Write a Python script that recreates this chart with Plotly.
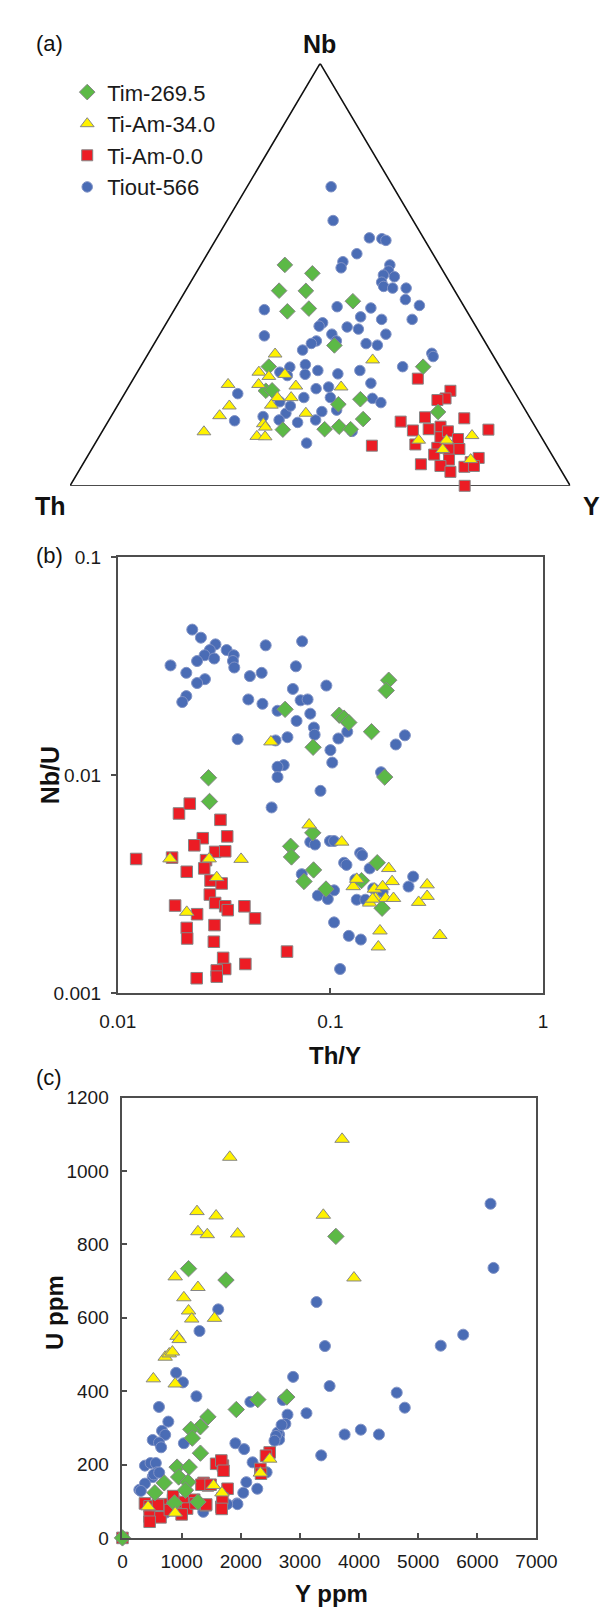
import plotly.graph_objects as go

# ======================= DATA =======================
SERIES = ["Tim-269.5", "Ti-Am-34.0", "Ti-Am-0.0", "Tiout-566"]

# ---- (a) ternary Th - Nb - Y (percent) ----
a_th_green = [30.9, 26.4, 35.1, 29.8, 21.6, 35.9, 31.3, 30.5, 46.1, 15.3, 49.6, 48.3, 36.7, 31.7, 33.5, 17.7, 50.8, 42.4, 39.2, 37.2]
a_nb_green = [52.3, 50.3, 46.2, 46.2, 43.7, 41.3, 42.0, 33.2, 28.2, 28.2, 22.5, 22.6, 19.3, 20.5, 15.8, 17.5, 13.3, 13.4, 14.0, 13.4]
a_y_green = [16.8, 23.3, 18.7, 24.1, 34.7, 22.8, 26.8, 36.2, 25.6, 56.5, 27.9, 29.1, 44.0, 47.8, 50.7, 64.9, 35.9, 44.2, 46.8, 49.4]

a_th_yellow = [43.4, 48.8, 47.3, 43.9, 56.4, 50.3, 43.0, 34.1, 24.6, 48.1, 45.4, 50.2, 58.7, 61.8, 44.3, 54.0, 54.0, 66.9, 56.8, 55.2, 24.9, 19.3, 13.7, 21.2, 16.8]
a_nb_yellow = [31.2, 26.9, 25.9, 26.4, 24.0, 24.0, 23.6, 23.4, 29.8, 20.9, 20.9, 19.1, 18.9, 16.6, 17.2, 14.7, 13.9, 12.8, 11.7, 11.6, 10.8, 10.8, 11.9, 8.6, 6.2]
a_y_yellow = [25.4, 24.3, 26.8, 29.8, 19.6, 25.7, 33.3, 42.5, 45.6, 31.0, 33.8, 30.7, 22.4, 21.6, 38.6, 31.3, 32.1, 20.4, 31.5, 33.2, 64.3, 69.9, 74.5, 70.2, 77.0]

a_th_red = [17.8, 12.7, 14.6, 16.4, 26.3, 20.9, 13.2, 24.9, 21.6, 18.9, 9.7, 26.1, 20.2, 18.0, 16.9, 34.9, 22.1, 20.0, 17.8, 23.5, 21.1, 17.1, 15.0, 27.3, 23.6, 22.3, 18.9, 16.9, 21.1]
a_nb_red = [25.4, 22.5, 20.7, 20.3, 15.2, 16.2, 16.0, 13.1, 13.4, 14.0, 13.3, 9.8, 11.5, 12.9, 11.1, 9.5, 9.0, 8.6, 8.7, 7.4, 6.2, 5.6, 6.6, 5.1, 4.7, 3.3, 4.5, 4.7, 0.0]
a_y_red = [56.9, 64.8, 64.8, 63.3, 58.5, 62.8, 70.9, 62.0, 65.0, 67.0, 77.0, 64.2, 68.3, 69.1, 72.1, 55.6, 69.0, 71.5, 73.5, 69.1, 72.6, 77.3, 78.4, 67.6, 71.7, 74.4, 76.6, 78.4, 78.9]

a_th_blue = [12.4, 16.0, 10.8, 8.4, 7.8, 15.2, 18.9, 20.0, 9.9, 10.9,
             12.4, 13.6, 10.4, 13.7, 12.1, 9.4, 10.9, 8.8, 25.4, 18.8,
             21.9, 18.0, 11.9, 40.3, 30.2, 31.3, 25.8, 23.8, 18.9, 29.7,
             43.4, 33.6, 34.9, 29.6, 24.0, 21.9, 37.4, 12.0, 12.1, 19.4,
             36.8, 38.6, 39.8, 42.0, 44.6, 43.5, 33.2, 28.4, 27.7, 36.6,
             39.3, 55.5, 42.8, 37.5, 37.7, 29.2, 28.0, 40.9, 48.3, 50.4,
             53.2, 47.0, 43.1, 59.4, 47.6, 48.1, 46.5, 37.2]
a_nb_blue = [70.8, 62.8, 58.7, 58.5, 58.1, 55.0, 53.0, 51.6, 52.3, 50.9,
             49.9, 48.2, 49.5, 47.2, 46.8, 46.8, 44.1, 42.7, 42.4, 42.1,
             40.0, 39.4, 39.4, 41.7, 38.6, 37.8, 37.6, 37.1, 35.9, 35.9,
             35.5, 34.3, 33.7, 34.3, 33.7, 33.3, 32.1, 31.4, 30.6, 28.2,
             27.3, 28.7, 26.4, 28.1, 26.9, 26.1, 26.5, 27.3, 24.3, 23.4,
             23.0, 21.8, 20.9, 20.9, 17.9, 20.7, 19.7, 17.6, 17.2, 15.6,
             16.4, 15.0, 15.6, 15.4, 10.1, 19.9, 18.9, 12.9]
a_y_blue = [16.8, 21.2, 30.5, 33.1, 34.1, 29.9, 28.0, 28.4, 37.8, 38.3,
            37.7, 38.2, 40.1, 39.1, 41.1, 43.8, 45.0, 48.5, 32.2, 39.1,
            38.1, 42.6, 48.7, 18.0, 31.2, 30.9, 36.6, 39.1, 45.2, 34.4,
            21.1, 32.1, 31.4, 36.1, 42.4, 44.8, 30.4, 56.7, 57.3, 52.4,
            35.9, 32.7, 33.8, 29.9, 28.5, 30.4, 40.3, 44.3, 48.0, 40.0,
            37.7, 22.6, 36.3, 41.6, 44.3, 50.1, 52.3, 41.6, 34.6, 34.0,
            30.4, 38.0, 41.3, 25.2, 42.2, 32.0, 34.6, 50.0]

# ---- (b) Th/Y vs Nb/U ----
b_thy_green = [0.188, 0.183, 0.0612, 0.110, 0.116, 0.122, 0.156, 0.0829, 0.0267, 0.180, 0.0270, 0.0826, 0.0650, 0.0656, 0.0833, 0.0751, 0.0953, 0.140, 0.166, 0.175]
b_nbu_green = [0.0272, 0.0244, 0.0200, 0.0188, 0.0182, 0.0174, 0.0158, 0.0134, 0.00971, 0.00978, 0.00756, 0.00543, 0.00471, 0.00421, 0.00367, 0.00325, 0.00300, 0.00328, 0.00396, 0.00245]

b_thy_yellow = [0.0525, 0.0794, 0.113, 0.0176, 0.0269, 0.0380, 0.0292, 0.0211, 0.188, 0.195, 0.128, 0.133, 0.161, 0.176, 0.163, 0.182, 0.198, 0.153, 0.158, 0.285, 0.285, 0.260, 0.171, 0.168, 0.327]
b_nbu_yellow = [0.0142, 0.00591, 0.00493, 0.00413, 0.00413, 0.00411, 0.00339, 0.00235, 0.00373, 0.00325, 0.00308, 0.00333, 0.00300, 0.00308, 0.00272, 0.00272, 0.00272, 0.00259, 0.00270, 0.00314, 0.00278, 0.00261, 0.00193, 0.00163, 0.00184]

b_thy_red = [0.0122, 0.0180, 0.0194, 0.0218, 0.0304, 0.0327, 0.0251, 0.0229, 0.0287, 0.0320,
             0.0260, 0.0255, 0.0211, 0.0273, 0.0308, 0.0271, 0.0287, 0.0320, 0.0329, 0.0186,
             0.0236, 0.0394, 0.0442, 0.0211, 0.0212, 0.0285, 0.0283, 0.0313, 0.0320, 0.0292,
             0.0292, 0.0235, 0.0398, 0.0625]
b_nbu_red = [0.00412, 0.00418, 0.00666, 0.00739, 0.00623, 0.00523, 0.00513, 0.00476, 0.00444, 0.00447,
             0.00407, 0.00373, 0.00360, 0.00328, 0.00318, 0.00283, 0.00259, 0.00250, 0.00240, 0.00252,
             0.00230, 0.00250, 0.00220, 0.00199, 0.00178, 0.00205, 0.00172, 0.00145, 0.00129, 0.00127,
             0.00119, 0.00117, 0.00136, 0.00155]

b_thy_blue = [0.0224, 0.0246, 0.0288, 0.0271, 0.0256, 0.0236, 0.0284, 0.0177, 0.0210, 0.0325,
              0.0351, 0.0348, 0.0353, 0.0257, 0.0236, 0.0210, 0.0201, 0.0496, 0.0736, 0.0688,
              0.0475, 0.0418, 0.0411, 0.0479, 0.0666, 0.0957, 0.0724, 0.0781, 0.0564, 0.0804,
              0.0693, 0.0836, 0.0843, 0.109, 0.120, 0.0366, 0.0552, 0.0628, 0.224, 0.203,
              0.100, 0.102, 0.0603, 0.0564, 0.0564, 0.173, 0.0898, 0.0529, 0.0804, 0.0846,
              0.0995, 0.104, 0.116, 0.119, 0.138, 0.141, 0.153, 0.0733, 0.245, 0.233,
              0.104, 0.0873, 0.0972, 0.133, 0.146, 0.159, 0.104, 0.122, 0.139, 0.111,
              0.131, 0.176]
b_nbu_blue = [0.0464, 0.0426, 0.0397, 0.0374, 0.0354, 0.0333, 0.0342, 0.0318, 0.0294, 0.0374,
              0.0354, 0.0333, 0.0311, 0.0275, 0.0264, 0.0230, 0.0216, 0.0393, 0.0410, 0.0315,
              0.0294, 0.0284, 0.0222, 0.0212, 0.0248, 0.0257, 0.0220, 0.0222, 0.0197, 0.0191,
              0.0177, 0.0165, 0.0153, 0.0147, 0.0158, 0.0146, 0.0144, 0.0149, 0.0152, 0.0138,
              0.0130, 0.0114, 0.0111, 0.0109, 0.00978, 0.0103, 0.00846, 0.00710, 0.00493, 0.00480,
              0.00498, 0.00498, 0.00396, 0.00387, 0.00439, 0.00429, 0.00373, 0.00351, 0.00342, 0.00308,
              0.00296, 0.00280, 0.00270, 0.00268, 0.00268, 0.00302, 0.00211, 0.00183, 0.00176, 0.00129,
              0.00332, 0.00291]

# ---- (c) Y ppm vs U ppm ----
c_y_green = [1117, 1750, 3608, 2779, 2288, 1924, 1445, 1318, 1155, 1181, 1318, 923, 1128, 950, 1108, 706, 1065, 548, 880, 1276, 0]
c_u_green = [734, 703, 822, 384, 377, 350, 330, 303, 296, 272, 231, 193, 193, 166, 152, 150, 130, 123, 95, 98, 0]

c_y_yellow = [3713, 1814, 1260, 1583, 3396, 1276, 1434, 1947, 3914, 891, 1276, 1038, 1117, 1171, 1556, 923, 959, 722, 791, 844, 522, 891, 2489, 2331, 1540, 1682, 432, 891]
c_u_yellow = [1087, 1038, 890, 878, 880, 835, 827, 829, 709, 712, 683, 655, 619, 597, 599, 550, 541, 493, 502, 507, 434, 420, 215, 177, 143, 123, 85, 68]

c_y_red = [0, 1583, 1698, 1671, 1708, 2489, 2426, 2331, 2342, 1371, 1445, 1777, 1335, 1490,
           380, 459, 669, 855, 934, 1038, 1212, 1092, 1234, 1409, 1671, 1689,
           459, 643, 459, 801, 857, 1000, 1416, 1677, 600]
c_u_red = [0, 202, 197, 211, 183, 233, 224, 188, 175, 150, 143, 134, 145, 145,
           94, 86, 92, 103, 89, 98, 104, 80, 94, 89, 85, 107,
           58, 56, 44, 76, 114, 64, 91, 79, 90]

c_y_blue = [3281, 3423, 5761, 5381, 2885, 3502, 4637, 4773, 2711, 2790,
            2754, 3111, 2648, 2648, 3756, 4030, 4336, 3360, 6223, 6273,
            1619, 1302, 907, 1022, 1250, 617, 775, 669, 722, 511,
            617, 654, 1038, 1909, 2057, 2162, 380, 475, 564, 590,
            511, 285, 380, 2200, 2437, 2094, 2042, 2279, 1936, 2621,
            2690, 2595, 2570, 1944, 1770, 1366, 733, 311, 528, 621]
c_u_blue = [643, 523, 554, 524, 439, 414, 396, 355, 376, 336,
            311, 340, 282, 268, 282, 295, 282, 225, 911, 736,
            623, 564, 450, 424, 386, 357, 317, 292, 281, 267,
            260, 247, 258, 258, 242, 371, 197, 204, 204, 179,
            166, 131, 148, 206, 179, 152, 123, 134, 94, 287,
            308, 278, 265, 92, 92, 71, 69, 128, 173, 178]

b_xticks = [0.01, 0.1, 1]
b_xticktext = ["0.01", "0.1", "1"]
b_yticks = [0.001, 0.01, 0.1]
b_yticktext = ["0.001", "0.01", "0.1"]

# ======================= STYLE / LAYOUT =======================
W, H = 616, 1609
FONT = "Liberation Sans, Arial, sans-serif"


def fx(x):
    return x / W


def fy(y):
    return 1 - y / H


STY = {
    "green": dict(symbol="diamond", color="#5cb946", line="#868686", size=12, rank=1, name=SERIES[0]),
    "yellow": dict(symbol="triangle-up", color="#fff200", line="#868686", size=12, rank=2, name=SERIES[1]),
    "red": dict(symbol="square", color="#ec1c24", line="#868686", size=11, rank=3, name=SERIES[2]),
    "blue": dict(symbol="circle", color="#4a6cb5", line="#8193c6", size=10.5, rank=4, name=SERIES[3]),
}


def ternary_xy(th, nb, yy):
    xs, ys = [], []
    for t, n, y in zip(th, nb, yy):
        s = t + n + y
        xs.append((y + 0.5 * n) / s)
        ys.append(n / s)
    return xs, ys


fig = go.Figure()

order = ["blue", "red", "green", "yellow"]
panel_a = {
    "green": (a_th_green, a_nb_green, a_y_green),
    "yellow": (a_th_yellow, a_nb_yellow, a_y_yellow),
    "red": (a_th_red, a_nb_red, a_y_red),
    "blue": (a_th_blue, a_nb_blue, a_y_blue),
}
panel_b = {
    "green": (b_thy_green, b_nbu_green),
    "yellow": (b_thy_yellow, b_nbu_yellow),
    "red": (b_thy_red, b_nbu_red),
    "blue": (b_thy_blue, b_nbu_blue),
}
panel_c = {
    "green": (c_y_green, c_u_green),
    "yellow": (c_y_yellow, c_u_yellow),
    "red": (c_y_red, c_u_red),
    "blue": (c_y_blue, c_u_blue),
}


def mk(key, scale=1.0):
    s = STY[key]
    return dict(symbol=s["symbol"], color=s["color"], size=s["size"] * scale,
                line=dict(color=s["line"], width=1))


for key in order:
    th, nb, yy = panel_a[key]
    xs, ys = ternary_xy(th, nb, yy)
    fig.add_trace(go.Scatter(x=xs, y=ys, mode="markers", marker=mk(key),
                             name=STY[key]["name"], legendrank=STY[key]["rank"],
                             xaxis="x", yaxis="y", cliponaxis=False, showlegend=True))
for key in order:
    xv, yv = panel_b[key]
    fig.add_trace(go.Scatter(x=xv, y=yv, mode="markers", marker=mk(key, 1.05),
                             name=STY[key]["name"], xaxis="x2", yaxis="y2",
                             cliponaxis=False, showlegend=False))
for key in order:
    xv, yv = panel_c[key]
    fig.add_trace(go.Scatter(x=xv, y=yv, mode="markers", marker=mk(key, 1.05),
                             name=STY[key]["name"], xaxis="x3", yaxis="y3",
                             cliponaxis=False, showlegend=False))

AX_COL = "#4d4d4d"
tickfont = dict(family=FONT, size=19, color="#1a1a1a")

common = dict(showline=True, mirror=True, linecolor=AX_COL, linewidth=1.8,
              showgrid=False, zeroline=False, tickfont=tickfont,
              tickcolor=AX_COL, ticklen=5, tickwidth=1.5, fixedrange=True)

fig.update_layout(
    width=W, height=H, autosize=False,
    margin=dict(l=0, r=0, t=0, b=0),
    paper_bgcolor="white", plot_bgcolor="rgba(0,0,0,0)",
    showlegend=True,
    legend=dict(x=fx(44), y=fy(54), xanchor="left", yanchor="top",
                font=dict(family=FONT, size=22, color="#1a1a1a"),
                bgcolor="rgba(0,0,0,0)", tracegroupgap=0, itemsizing="trace"),
    # panel (a) – ternary projection frame
    xaxis=dict(domain=[fx(47), fx(581)], range=[0, 1], visible=False, fixedrange=True, anchor="y"),
    yaxis=dict(domain=[fy(474), fy(46)], range=[0, 1], visible=False, fixedrange=True, anchor="x"),
    # panel (b)
    xaxis2=dict(domain=[fx(98), fx(552)], type="log", range=[-2, 0], anchor="y2",
                tickvals=b_xticks, ticktext=b_xticktext, ticks="inside",
                ticklabelstandoff=10, **common),
    yaxis2=dict(domain=[fy(988), fy(546)], type="log", range=[-3, -1], anchor="x2",
                tickvals=b_yticks, ticktext=b_yticktext, ticks="outside",
                ticklabelstandoff=6, **common),
    # panel (c)
    xaxis3=dict(domain=[fx(103), fx(545)], range=[0, 7000], dtick=1000, anchor="y3",
                ticks="inside", ticklabelstandoff=5, **common),
    yaxis3=dict(domain=[fy(1540), fy(1094)], range=[0, 1200], dtick=200, anchor="x3",
                ticks="inside", ticklabelstandoff=8, **common),
)

# ternary triangle outline (in the ternary frame's own axis units)
fig.add_shape(type="path", xref="x", yref="y", path="M 0,0 L 1,0 L 0.5,1 Z",
              line=dict(color="#111111", width=1.6), layer="below")


def ann(text, x, y, size=23, bold=False, angle=0, xanchor="center"):
    t = f"<b>{text}</b>" if bold else text
    fig.add_annotation(text=t, x=fx(x), y=fy(y), xref="paper", yref="paper",
                       showarrow=False, textangle=angle, xanchor=xanchor, yanchor="middle",
                       font=dict(family=FONT, size=size, color="#111111"))


ann("(a)", 9, 26, size=22, xanchor="left")
ann("Nb", 313, 26, size=25, bold=True)
ann("Th", 26, 494, size=25, bold=True)
ann("Y", 604, 494, size=25, bold=True)

ann("(b)", 9, 545, size=22, xanchor="left")
ann("Nb/U", 26, 767, size=25, bold=True, angle=-90)
ann("Th/Y", 330, 1051, size=24, bold=True)

ann("(c)", 9, 1074, size=22, xanchor="left")
ann("U ppm", 31, 1312, size=24, bold=True, angle=-90)
ann("Y ppm", 326, 1596, size=24, bold=True)

fig.write_html("out.html")
